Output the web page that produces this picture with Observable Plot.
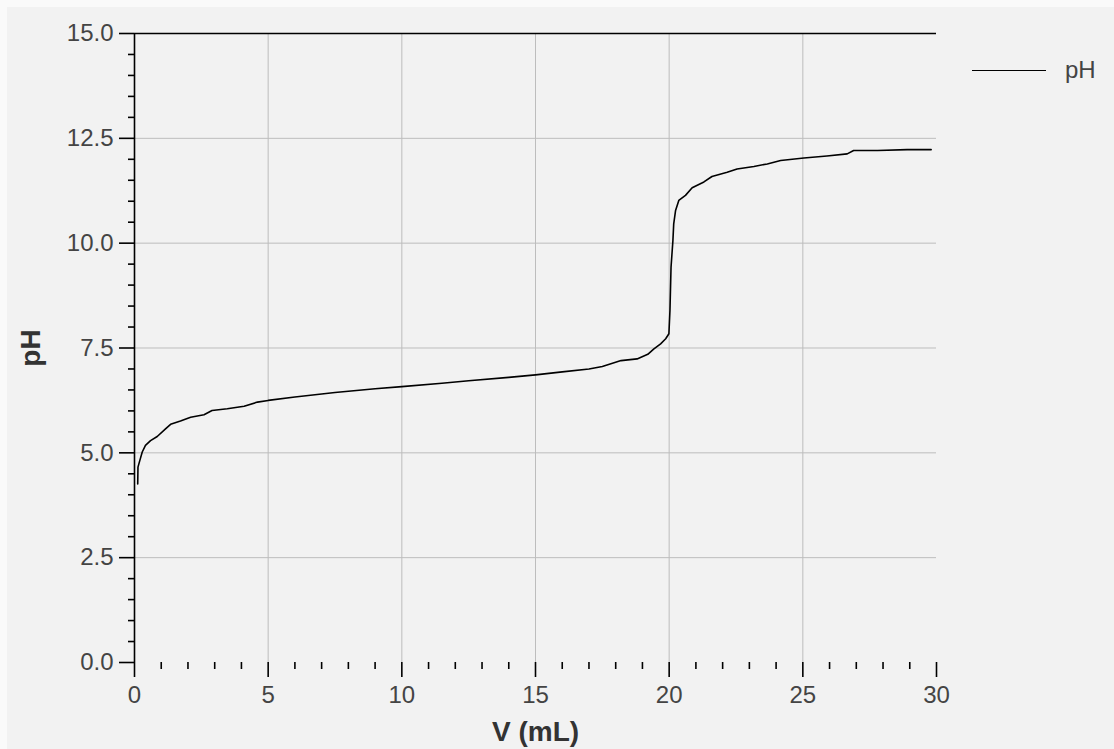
<!DOCTYPE html>
<html>
<head>
<meta charset="utf-8">
<script src="https://cdn.jsdelivr.net/npm/d3@7"></script>
<script src="https://cdn.jsdelivr.net/npm/@observablehq/plot@0.6"></script>
<style>
  body { margin: 0; background: #f2f2f2; }
  #wrap { position: relative; width: 1114px; height: 749px; overflow: hidden; }
  #wrap svg { display: block; box-shadow: inset 7px 7px 0 #fafafa; }
  g[aria-label="x-axis label"] text, g[aria-label="y-axis label"] text {
    font-size: 28px; font-weight: bold; fill: #333;
  }
  #legend { position: absolute; left: 972px; top: 56px; height: 28px; display: flex; align-items: center;
    font-family: "Liberation Sans", Arial, sans-serif; font-size: 24px; color: #444; }
  #legend .swatch { width: 74px; height: 0; border-top: 1.6px solid #000; margin-right: 19px; }
</style>
</head>
<body>
<div id="wrap"><div id="legend"><span class="swatch"></span><span>pH</span></div></div>
<script>
// Titration data
const volume = [0.12, 0.13, 0.2, 0.29, 0.41, 0.6, 0.85, 1.16, 1.35, 1.72,
  2.1, 2.6, 2.9, 3.47, 4.1, 4.6, 5.0, 6.0, 7.5, 9,
  10, 11.5, 12.5, 14, 15, 16, 17, 17.5, 18.2, 18.8,
  19.2, 19.43, 19.68, 19.87, 19.99, 20.03, 20.07, 20.14, 20.17, 20.24,
  20.36, 20.61, 20.86, 21.3, 21.6, 22.17, 22.54, 23.17, 23.67, 24.17,
  25.04, 25.9, 26.66, 26.9, 27.8, 28.9, 29.8];
const pH = [4.26, 4.66, 4.82, 5.02, 5.18, 5.29, 5.39, 5.57, 5.68, 5.76,
  5.85, 5.91, 6.01, 6.05, 6.11, 6.21, 6.25, 6.33, 6.44, 6.53,
  6.58, 6.66, 6.72, 6.8, 6.86, 6.93, 7.0, 7.06, 7.2, 7.24,
  7.35, 7.48, 7.6, 7.72, 7.84, 8.4, 9.43, 10.06, 10.46, 10.78,
  11.02, 11.14, 11.32, 11.46, 11.59, 11.69, 11.77, 11.83, 11.89, 11.97,
  12.03, 12.08, 12.13, 12.21, 12.21, 12.23, 12.23];

const xMajorTicks = [0, 5, 10, 15, 20, 25, 30];
const xMinorTicks = [1, 2, 3, 4, 6, 7, 8, 9, 11, 12, 13, 14, 16, 17, 18, 19, 21, 22, 23, 24, 26, 27, 28, 29];
const xGridLines = [5, 10, 15, 20, 25];
const yMajorTicks = [0, 2.5, 5, 7.5, 10, 12.5, 15];
const yMinorTicks = [0.5, 1, 1.5, 2, 3, 3.5, 4, 4.5, 5.5, 6, 6.5, 7, 8, 8.5, 9, 9.5, 10.5, 11, 11.5, 12, 13, 13.5, 14, 14.5];
const yGridLines = [2.5, 5, 7.5, 10, 12.5];

const data = volume.map((v, i) => ({v, pH: pH[i]}));

const chart = Plot.plot({
  width: 1114,
  height: 749,
  marginLeft: 134,
  marginRight: 178,
  marginTop: 33,
  marginBottom: 87,
  style: {background: "#f2f2f2", fontFamily: "'Liberation Sans', Arial, sans-serif", overflow: "visible"},
  x: {domain: [0, 30]},
  y: {domain: [0, 15]},
  marks: [
    Plot.gridX(xGridLines, {stroke: "#bdbdbd", strokeOpacity: 1, strokeWidth: 1}),
    Plot.gridY(yGridLines, {stroke: "#bdbdbd", strokeOpacity: 1, strokeWidth: 1}),
    Plot.ruleY([15], {stroke: "#000", strokeWidth: 1.6}),
    Plot.ruleX([0], {stroke: "#000", strokeWidth: 1.6}),
    Plot.line(data, {x: "v", y: "pH", stroke: "#000", strokeWidth: 1.6}),
    Plot.axisX(xMinorTicks, {tickSize: 7, strokeWidth: 1.6, tickFormat: () => "", label: null}),
    Plot.axisX(xMajorTicks, {tickSize: 15, tickPadding: 8, strokeWidth: 1.6, fontSize: 24, fill: "#444",
      label: "V (mL)", labelAnchor: "center", labelArrow: "none", labelOffset: 78}),
    Plot.axisY(yMinorTicks, {tickSize: 6, strokeWidth: 1.6, tickFormat: () => "", label: null}),
    Plot.axisY(yMajorTicks, {tickSize: 15, tickPadding: 6, strokeWidth: 1.6, fontSize: 24, fill: "#444",
      tickFormat: d3.format(".1f"),
      label: "pH", labelAnchor: "center", labelArrow: "none", labelOffset: 114})
  ]
});
document.getElementById("wrap").prepend(chart);
</script>
</body>
</html>
